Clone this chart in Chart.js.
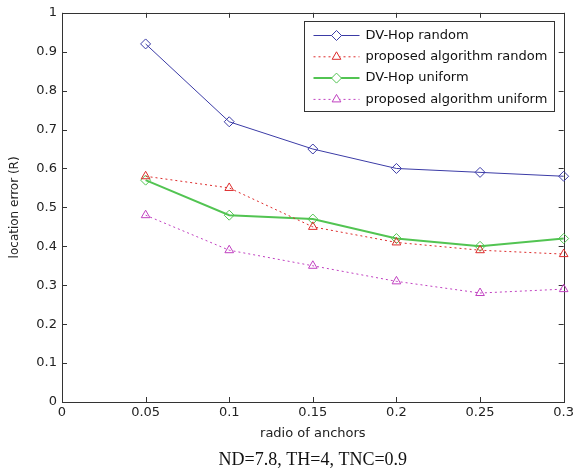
<!DOCTYPE html>
<html>
<head>
<meta charset="utf-8">
<script src="https://cdn.jsdelivr.net/npm/chart.js@4.4.1/dist/chart.umd.min.js"></script>
<style>
  html, body { margin: 0; padding: 0; background: #fff; }
  #wrap { width: 577px; height: 472px; }
</style>
</head>
<body>
<div id="wrap"><canvas id="errorChart" width="577" height="472"></canvas></div>
<script>
// data
const anchorRatios = [0.05, 0.1, 0.15, 0.2, 0.25, 0.3];
const dvHopRandom = [0.92, 0.72, 0.65, 0.60, 0.59, 0.58];
const proposedRandom = [0.58, 0.55, 0.45, 0.41, 0.39, 0.38];
const dvHopUniform = [0.57, 0.48, 0.47, 0.42, 0.40, 0.42];
const proposedUniform = [0.48, 0.39, 0.35, 0.31, 0.28, 0.29];

const seriesLabels = [
  "DV-Hop random",
  "proposed algorithm random",
  "DV-Hop uniform",
  "proposed algorithm uniform",
];
const caption = "ND=7.8, TH=4, TNC=0.9";

const toPoints = (values) =>
  values.map((v, i) => ({ x: anchorRatios[i], y: v }));

const fmt = (v) => String(Number(v.toFixed(2)));

// matlab style box with inward ticks
const boxPlugin = {
  id: "matlabBox",
  beforeDatasetsDraw(chart) {
    const { ctx, chartArea: a, scales } = chart;
    ctx.save();
    ctx.strokeStyle = "#333";
    ctx.lineWidth = 1;
    ctx.strokeRect(Math.round(a.left) + 0.5, Math.round(a.top) + 0.5,
      Math.round(a.right - a.left), Math.round(a.bottom - a.top));
    ctx.beginPath();
    scales.x.ticks.forEach((t) => {
      const px = Math.round(scales.x.getPixelForValue(t.value)) + 0.5;
      ctx.moveTo(px, a.bottom); ctx.lineTo(px, a.bottom - 5);
      ctx.moveTo(px, a.top); ctx.lineTo(px, a.top + 5);
    });
    scales.y.ticks.forEach((t) => {
      const py = Math.round(scales.y.getPixelForValue(t.value)) + 0.5;
      ctx.moveTo(a.left, py); ctx.lineTo(a.left + 5, py);
      ctx.moveTo(a.right, py); ctx.lineTo(a.right - 5, py);
    });
    ctx.stroke();
    ctx.restore();
  },
};

// legend drawn inside the plot, line + marker like matlab
const insideLegend = {
  id: "insideLegend",
  afterDatasetsDraw(chart) {
    const { ctx, chartArea: a } = chart;
    const left = Math.round(a.left + 242) + 0.5;
    const top = Math.round(a.top + 8) + 0.5;
    ctx.save();
    ctx.fillStyle = "#fff";
    ctx.fillRect(left, top, 250, 90);
    ctx.strokeStyle = "#333";
    ctx.lineWidth = 1;
    ctx.strokeRect(left, top, 250, 90);
    chart.data.datasets.forEach((ds, i) => {
      const y = top + 14 + i * 21.3;
      ctx.save();
      ctx.strokeStyle = ds.borderColor;
      ctx.lineWidth = ds.borderWidth;
      ctx.setLineDash(ds.borderDash || []);
      ctx.beginPath();
      ctx.moveTo(left + 9, y);
      ctx.lineTo(left + 55, y);
      ctx.stroke();
      ctx.setLineDash([]);
      ctx.lineWidth = 1;
      ctx.fillStyle = "#fff";
      Chart.helpers.drawPoint(ctx, {
        pointStyle: ds.pointStyle,
        radius: ds.pointRadius,
        borderWidth: 1,
        rotation: 0,
      }, left + 32, y);
      ctx.restore();
      ctx.fillStyle = "#111";
      ctx.font = "13px 'DejaVu Sans'";
      ctx.textBaseline = "middle";
      ctx.fillText(ds.label, left + 61, y);
    });
    ctx.restore();
  },
};

// caption under the axis title, centred on the plot like the figure
const captionPlugin = {
  id: "caption",
  afterDraw(chart) {
    const { ctx, chartArea: a } = chart;
    ctx.save();
    ctx.fillStyle = "#111";
    ctx.font = "18px 'Liberation Serif'";
    ctx.textAlign = "center";
    ctx.textBaseline = "middle";
    ctx.fillText(caption, (a.left + a.right) / 2, 460);
    ctx.restore();
  },
};

function line(label, values, color, dashed, style, width) {
  return {
    label: label,
    data: toPoints(values),
    borderColor: color,
    borderWidth: width,
    borderDash: dashed ? [2, 3] : [],
    pointStyle: style,
    pointRadius: 5,
    pointBorderColor: color,
    pointBackgroundColor: "rgba(255,255,255,0)",
    pointBorderWidth: 1,
    tension: 0,
    fill: false,
    clip: false,
  };
}

new Chart(document.getElementById("errorChart"), {
  type: "line",
  data: {
    datasets: [
      line(seriesLabels[0], dvHopRandom, "#3b3ba6", false, "rectRot", 1),
      line(seriesLabels[1], proposedRandom, "#dd2b2b", true, "triangle", 1),
      line(seriesLabels[2], dvHopUniform, "#52c452", false, "rectRot", 2),
      line(seriesLabels[3], proposedUniform, "#c040c0", true, "triangle", 1),
    ],
  },
  options: {
    responsive: false,
    animation: false,
    layout: { padding: { top: 12, right: 12, left: 0, bottom: 26 } },
    plugins: {
      legend: { display: false },
      tooltip: { enabled: false },
    },
    scales: {
      x: {
        type: "linear",
        min: 0,
        max: 0.3,
        ticks: {
          stepSize: 0.05,
          callback: (v) => fmt(v),
          color: "#222",
          font: { family: "'DejaVu Sans'", size: 13 },
          padding: 3,
          maxRotation: 0,
        },
        grid: { display: false, drawTicks: false },
        border: { display: false },
        title: {
          display: true,
          text: "radio of anchors",
          color: "#222",
          font: { family: "'DejaVu Sans'", size: 13 },
          padding: { top: 4, bottom: 5 },
        },
        afterFit: (s) => { s.height = 44; },
      },
      y: {
        min: 0,
        max: 1,
        ticks: {
          stepSize: 0.1,
          callback: (v) => fmt(v),
          color: "#222",
          font: { family: "'DejaVu Sans'", size: 13 },
          padding: 5,
        },
        grid: { display: false, drawTicks: false },
        border: { display: false },
        title: {
          display: true,
          text: "location error (R)",
          color: "#222",
          font: { family: "'DejaVu Sans'", size: 12 },
          padding: { top: 8, bottom: 0 },
        },
        afterFit: (s) => { s.width = 62; },
      },
    },
  },
  plugins: [boxPlugin, insideLegend, captionPlugin],
});
</script>
</body>
</html>
